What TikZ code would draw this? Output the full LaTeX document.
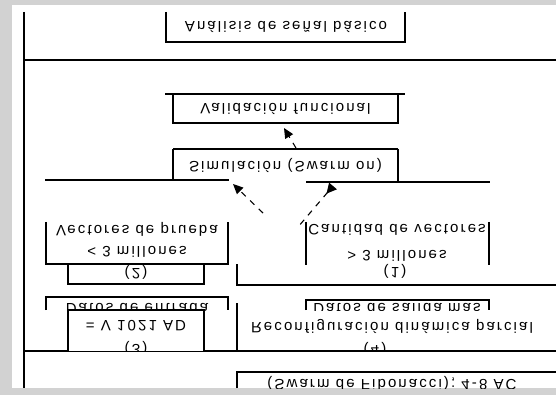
\documentclass[tikz,border=0pt]{standalone}
\usepackage{fontspec}
\setmainfont{Liberation Sans}
\newfontfamily\df[LetterSpace=14]{Liberation Sans}
\usetikzlibrary{arrows.meta}
\newcommand{\fl}[1]{\scalebox{1}[-1]{#1}}
\begin{document}
\begin{tikzpicture}[x=1pt,y=-1pt,line width=1.3pt,
  txt/.style={inner sep=0pt,font=\df\fontsize{15}{15}\selectfont},
  dsh/.style={dash pattern=on 6pt off 6pt,line width=1.1pt},
  tipend/.style={-{Triangle[length=10pt,width=9pt]}},
  tipstart/.style={{Triangle[reversed,length=10pt,width=10pt]}-}]
\fill[gray!35] (0,0) rectangle (556,395);
\fill[white] (12,5) rectangle (556,388);
\useasboundingbox (0,0) rectangle (556,395);
% frame lines
\draw (24,12) -- (24,388);
\draw (24,60) -- (556,60);
\draw (24,351) -- (556,351);
% top box
\draw (166,12) -- (166,42) -- (405,42) -- (405,12);
\node[txt] (top) at (286,27) {\fl{Análisis de señal básico}};
% validacion
\draw (165,94) -- (405,94);
\draw (173,94) -- (173,123) -- (398,123) -- (398,94);
\node[txt] (val) at (285.5,108.5) {\fl{Validación funcional}};
% simulacion
\draw (173,149) -- (398,149);
\draw (173,149) -- (173,180);
\draw (398,149) -- (398,182);
\draw (45,180) -- (229,180);
\draw[line width=2.6pt] (306,182) -- (490,182);
\node[txt] (sim) at (285.5,165) {\fl{Simulación (Swarm on)}};
% arrows
\coordinate (u0) at (296,148); \coordinate (u1) at (284,128);
\draw[dsh,tipend] (u0) -- (u1);
\coordinate (l0) at (263,213); \coordinate (l1) at (233,184);
\draw[dsh,tipend] (l0) -- (l1);
\coordinate (r0) at (298,227); \coordinate (r1) at (333,186);
\draw[dsh,tipstart] (r1) -- (r0);
% left box A
\draw (46,222) -- (46,264) -- (228,264) -- (228,222);
\begin{scope}
\clip (40,222) rectangle (232,264);
\node[txt] (a1) at (137,229) {\fl{Vectores de prueba}};
\end{scope}
\node[txt] (a2) at (137,252) {\fl{< 3 millones}};
\draw (68,264) -- (68,284) -- (204,284) -- (204,264);
\node[txt] (a3) at (136,272) {\fl{(2)}};
% right box B
\draw (306,222) -- (306,265);
\draw (489,222) -- (489,265);
\begin{scope}
\clip (300,222) rectangle (495,268);
\node[txt] (b1) at (397,230) {\fl{Cantidad de vectores}};
\end{scope}
\node[txt] (b2) at (397,256) {\fl{> 3 millones}};
\node[txt] (b3) at (395,271) {\fl{(1)}};
\draw (237,264) -- (237,285) -- (556,285);
% lower left C and D
\draw (46,310) -- (46,297) -- (228,297) -- (228,310);
\begin{scope}
\clip (40,297) rectangle (232,310);
\node[txt] (c1) at (137,309) {\fl{Datos de entrada}};
\end{scope}
\draw[fill=white] (68,351) -- (68,310) -- (204,310) -- (204,351);
\begin{scope}
\clip (60,310) rectangle (210,350);
\node[txt] (d1) at (136,326) {\fl{= V 1021 AD}};
\node[txt] (d2) at (136,348) {\fl{(3)}};
\end{scope}
% lower right E
\draw (306,310) -- (306,300) -- (489,300) -- (489,310);
\begin{scope}
\clip (300,300) rectangle (495,310);
\node[txt] (e1) at (397,309) {\fl{Datos de salida más}};
\end{scope}
\draw (237,303) -- (237,351);
\begin{scope}
\clip (238,310) rectangle (556,350);
\node[txt] (r1t) at (392,326) {\fl{Reconfiguración dinámica parcial}};
\node[txt] (r2t) at (375,349) {\fl{(4)}};
\end{scope}
% bottom box
\draw (237,388) -- (237,372) -- (556,372);
\begin{scope}
\clip (238,372) rectangle (556,388);
\node[txt] (bot) at (392,383) {\fl{(Swarm de Fibonacci); 4-8 AC}};
\end{scope}
\end{tikzpicture}
\end{document}
